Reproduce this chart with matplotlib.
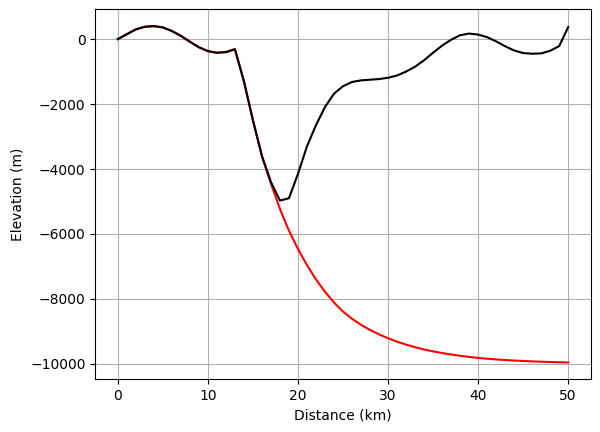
import matplotlib
matplotlib.use('Agg')
import matplotlib.pyplot as plt

# distance along profile (km)
distance = list(range(0, 51))

# measured elevation (m), black line
elevation = [0, 150, 300, 380, 400, 360, 250, 100, -80, -250,
             -370, -420, -400, -310, -1300, -2500, -3600, -4400, -4970, -4900,
             -4150, -3300, -2650, -2090, -1680, -1450, -1320, -1270, -1250, -1230,
             -1190, -1120, -1000, -850, -650, -420, -200, -20, 120, 170,
             140, 60, -70, -220, -350, -430, -450, -440, -360, -215,
             370]

# predicted elevation (m), red line
predicted = [0, 150, 300, 380, 400, 360, 250, 100, -80, -250,
             -370, -420, -400, -310, -1300, -2500, -3600, -4450, -5230, -5900,
             -6460, -6960, -7400, -7780, -8110, -8390, -8610, -8795, -8955, -9090,
             -9210, -9315, -9405, -9485, -9555, -9615, -9665, -9710, -9750, -9785,
             -9815, -9840, -9862, -9880, -9896, -9910, -9922, -9932, -9941, -9949,
             -9956]

fig = plt.figure(figsize=(6.0, 4.32), dpi=100)
ax = fig.add_axes([95.3 / 600, (432 - 379.3) / 432, 495.4 / 600, 370.0 / 432])

ax.plot(distance, predicted, color='red')
ax.plot(distance, elevation, color='black')

ax.set_xlabel('Distance (km)')
ax.set_ylabel('Elevation (m)')
ax.grid(True)

fig.savefig('out.png', dpi=100)
